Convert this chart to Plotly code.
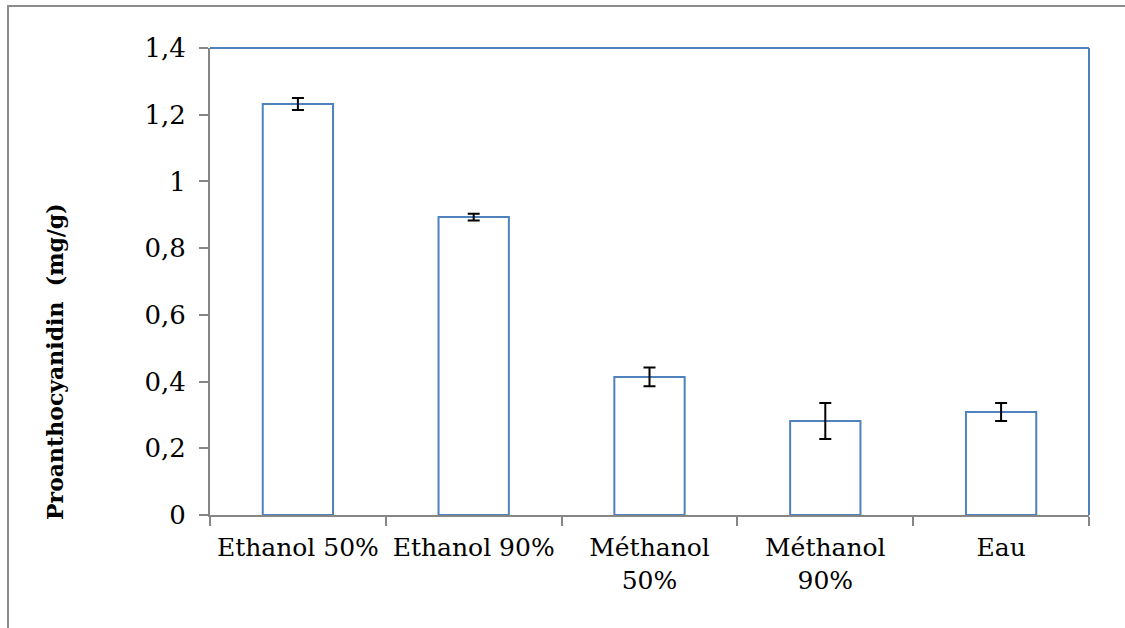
import plotly.graph_objects as go

categories = ["Ethanol 50%", "Ethanol 90%", "Méthanol<br>50%", "Méthanol<br>90%", "Eau"]
values = [1.232, 0.893, 0.414, 0.282, 0.309]
errors = [0.018, 0.010, 0.028, 0.054, 0.027]
y_tickvals = [0, 0.2, 0.4, 0.6, 0.8, 1.0, 1.2, 1.4]
y_ticktext = ["0", "0,2", "0,4", "0,6", "0,8", "1", "1,2", "1,4"]
y_title = "Proanthocyanidin  (mg/g)"

BLUE = "#4F81BD"
GRAY = "#868686"
FONT = "DejaVu Serif"

fig = go.Figure()
fig.add_trace(go.Bar(
    x=categories, y=values, width=0.4,
    marker=dict(color="rgba(255,255,255,0)", line=dict(color=BLUE, width=2)),
    error_y=dict(type="data", array=errors, visible=True, color="black", thickness=2, width=6),
))

W, H = 1125, 628
L, R, T, B = 210, 1089, 48, 515
pw, ph = R - L, B - T

def px(x):
    return (x - L) / pw

def py(y):
    return (B - y) / ph

shapes = [
    dict(type="line", xref="paper", yref="paper", x0=0, x1=1, y0=1, y1=1, line=dict(color=BLUE, width=2)),
    dict(type="line", xref="paper", yref="paper", x0=1, x1=1, y0=0, y1=1, line=dict(color=BLUE, width=2)),
    dict(type="rect", xref="paper", yref="paper", x0=px(8), x1=px(1140), y0=py(650), y1=py(6),
         line=dict(color="#8C8C8C", width=2), fillcolor="rgba(0,0,0,0)", layer="below"),
]

fig.update_layout(
    width=W, height=H,
    margin=dict(l=L, r=W - R, t=T, b=H - B, autoexpand=False),
    plot_bgcolor="white", paper_bgcolor="white",
    font=dict(family=FONT, size=25, color="black"),
    showlegend=False,
    shapes=shapes,
    xaxis=dict(
        type="category", range=[-0.5, 4.5], tickson="boundaries",
        ticks="outside", ticklen=9, tickwidth=2, tickcolor=GRAY, tickangle=0,
        showline=True, linecolor=GRAY, linewidth=2, showgrid=False, zeroline=False,
        tickfont=dict(family=FONT, size=25, color="black"), automargin=False,
        ticklabelstandoff=9,
    ),
    yaxis=dict(
        range=[0, 1.4], tickvals=y_tickvals, ticktext=y_ticktext,
        ticks="outside", ticklen=9, tickwidth=2, tickcolor=GRAY,
        showline=True, linecolor=GRAY, linewidth=2, showgrid=False, zeroline=False,
        tickfont=dict(family=FONT, size=26, color="black"), automargin=False,
        ticklabelstandoff=8,
    ),
    annotations=[dict(
        text="<b>" + y_title + "</b>", textangle=-90, showarrow=False,
        xref="paper", yref="paper", x=px(55), y=py(362), xanchor="center", yanchor="middle",
        font=dict(family=FONT, size=22, color="black"),
    )],
)

fig.write_html("out.html", config={"displayModeBar": False},
               post_script="document.body.style.margin='0';")
